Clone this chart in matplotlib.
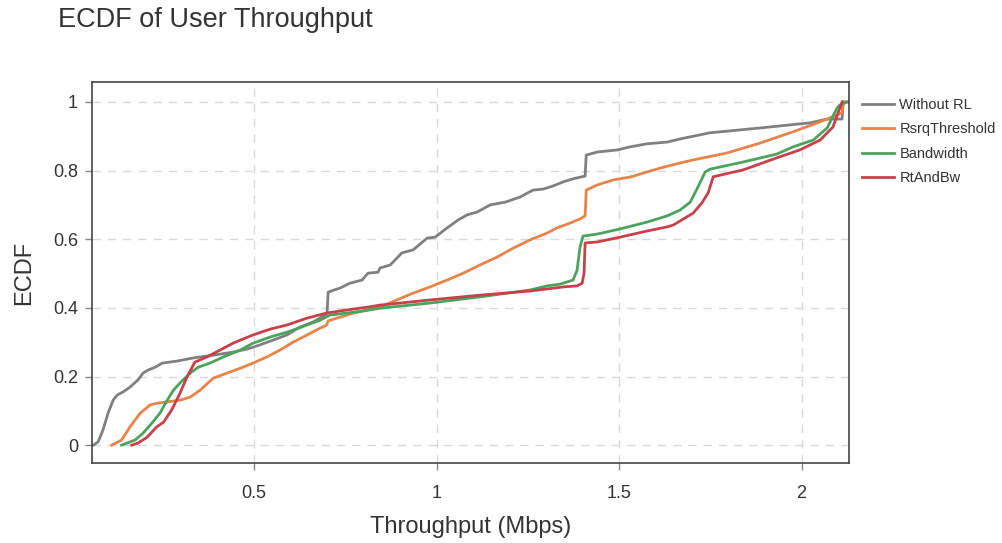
import matplotlib
matplotlib.use('Agg')
import matplotlib.pyplot as plt

plt.rcParams['font.family'] = ['Liberation Sans', 'DejaVu Sans']

# Without RL
wo_x = [0.056, 0.060, 0.073, 0.086, 0.100, 0.114, 0.125, 0.141, 0.160, 0.182, 0.196, 0.210, 0.229, 0.248,
        0.289, 0.333, 0.388, 0.442, 0.481, 0.516, 0.552, 0.590, 0.626, 0.662, 0.695, 0.700, 0.703,
        0.736, 0.763, 0.796, 0.812, 0.840, 0.845, 0.873, 0.905, 0.936, 0.974, 0.996, 1.029, 1.059,
        1.084, 1.111, 1.147, 1.188, 1.229, 1.264, 1.292, 1.319, 1.347, 1.374, 1.407, 1.410, 1.440,
        1.495, 1.530, 1.577, 1.632, 1.667, 1.749, 1.886, 2.023, 2.070, 2.111, 2.114, 2.13]
wo_y = [0.0, 0.0, 0.010, 0.044, 0.093, 0.131, 0.146, 0.155, 0.169, 0.190, 0.210, 0.219, 0.227, 0.239,
        0.245, 0.254, 0.262, 0.271, 0.280, 0.292, 0.306, 0.321, 0.344, 0.359, 0.379, 0.385, 0.446,
        0.458, 0.472, 0.481, 0.501, 0.504, 0.516, 0.525, 0.560, 0.569, 0.603, 0.606, 0.633, 0.656,
        0.671, 0.679, 0.700, 0.708, 0.723, 0.743, 0.746, 0.755, 0.767, 0.776, 0.784, 0.845, 0.854,
        0.860, 0.869, 0.878, 0.883, 0.892, 0.910, 0.924, 0.939, 0.950, 0.950, 1.0, 1.0]

# RsrqThreshold
rs_x = [0.110, 0.137, 0.160, 0.188, 0.215, 0.233, 0.297, 0.325, 0.352, 0.388, 0.426, 0.462, 0.497,
        0.535, 0.571, 0.607, 0.645, 0.681, 0.699, 0.703, 0.736, 0.773, 0.810, 0.845, 0.891, 0.936,
        0.982, 1.029, 1.073, 1.119, 1.166, 1.210, 1.256, 1.303, 1.330, 1.366, 1.393, 1.407, 1.410,
        1.440, 1.485, 1.530, 1.577, 1.612, 1.667, 1.703, 1.795, 1.886, 1.977, 2.051, 2.097, 2.111, 2.114]
rs_y = [0.0, 0.015, 0.053, 0.093, 0.117, 0.122, 0.131, 0.140, 0.160, 0.195, 0.210, 0.224, 0.239,
        0.257, 0.277, 0.300, 0.321, 0.341, 0.350, 0.362, 0.373, 0.385, 0.394, 0.402, 0.423, 0.443,
        0.461, 0.481, 0.501, 0.525, 0.548, 0.574, 0.598, 0.618, 0.633, 0.647, 0.659, 0.668, 0.743,
        0.758, 0.773, 0.781, 0.796, 0.807, 0.822, 0.831, 0.851, 0.880, 0.913, 0.942, 0.962, 0.968, 1.0]

# Bandwidth
bw_x = [0.137, 0.174, 0.196, 0.220, 0.242, 0.262, 0.279, 0.297, 0.325, 0.347, 0.379, 0.416, 0.462,
        0.497, 0.544, 0.590, 0.645, 0.681, 0.708, 0.755, 0.800, 0.845, 0.982, 1.119, 1.256, 1.303,
        1.338, 1.374, 1.385, 1.393, 1.401, 1.440, 1.503, 1.577, 1.632, 1.667, 1.695, 1.716, 1.736,
        1.749, 1.840, 1.932, 1.977, 2.032, 2.070, 2.097, 2.105, 2.125, 2.13]
bw_y = [0.0, 0.015, 0.035, 0.064, 0.093, 0.131, 0.160, 0.181, 0.210, 0.227, 0.239, 0.257, 0.277,
        0.297, 0.315, 0.329, 0.350, 0.364, 0.379, 0.385, 0.391, 0.399, 0.414, 0.432, 0.452, 0.464,
        0.469, 0.481, 0.510, 0.577, 0.609, 0.615, 0.630, 0.650, 0.668, 0.685, 0.708, 0.752, 0.796,
        0.804, 0.825, 0.848, 0.869, 0.889, 0.924, 0.982, 0.991, 1.0, 1.0]

# RtAndBw
rb_x = [0.165, 0.182, 0.207, 0.233, 0.252, 0.274, 0.297, 0.316, 0.338, 0.371, 0.407, 0.442, 0.497,
        0.544, 0.590, 0.645, 0.699, 0.755, 0.810, 0.845, 0.982, 1.119, 1.256, 1.347, 1.385, 1.399,
        1.404, 1.407, 1.440, 1.503, 1.577, 1.632, 1.648, 1.703, 1.727, 1.744, 1.758, 1.840, 1.932,
        1.995, 2.051, 2.086, 2.100, 2.111]
rb_y = [0.0, 0.006, 0.023, 0.053, 0.067, 0.102, 0.151, 0.198, 0.242, 0.257, 0.277, 0.297, 0.321,
        0.338, 0.350, 0.370, 0.385, 0.394, 0.402, 0.408, 0.423, 0.437, 0.449, 0.461, 0.464, 0.472,
        0.501, 0.589, 0.592, 0.606, 0.624, 0.636, 0.641, 0.676, 0.706, 0.735, 0.782, 0.802, 0.837,
        0.860, 0.889, 0.927, 0.968, 1.0]

series = [('Without RL', wo_x, wo_y, '#808080'),
          ('RsrqThreshold', rs_x, rs_y, '#e8834a'),
          ('Bandwidth', bw_x, bw_y, '#4ca35b'),
          ('RtAndBw', rb_x, rb_y, '#c9404a')]

fig = plt.figure(figsize=(10.03, 5.43), dpi=100)
ax = fig.add_axes([0.0917, 0.1473, 0.7548, 0.7017])

for name, xs, ys, c in series:
    ax.plot(xs, ys, color=c, lw=2, label=name)

ax.set_xlim(0.056, 2.130)
ax.set_ylim(-0.052, 1.058)
ax.set_xticks([0.5, 1, 1.5, 2])
ax.set_xticklabels(['0.5', '1', '1.5', '2'])
ax.set_yticks([0, 0.2, 0.4, 0.6, 0.8, 1])
ax.set_yticklabels(['0', '0.2', '0.4', '0.6', '0.8', '1'])
ax.grid(True, color='#d9d9d9', linestyle=(0, (6, 5)), lw=1)
ax.set_axisbelow(True)
for s in ax.spines.values():
    s.set_color('#444444')
    s.set_linewidth(1.2)
ax.tick_params(colors='#888888', labelcolor='#333333', labelsize=13, length=5, width=1)
ax.tick_params(axis='x', pad=11)
ax.tick_params(axis='y', pad=5)

ax.set_xlabel('Throughput (Mbps)', fontsize=17, color='#333333', labelpad=10)
ax.set_ylabel('ECDF', fontsize=17, color='#333333', labelpad=13)
fig.text(0.058, 0.963, 'ECDF of User Throughput', fontsize=19.5, color='#333333', va='center')

leg = ax.legend(loc='upper left', bbox_to_anchor=(1.003, 0.985), frameon=False, fontsize=10.5,
                handlelength=2.2, handletextpad=0.4, labelspacing=0.72, borderaxespad=0.3)
for t in leg.get_texts():
    t.set_color('#333333')

fig.savefig('out.png', dpi=100)
